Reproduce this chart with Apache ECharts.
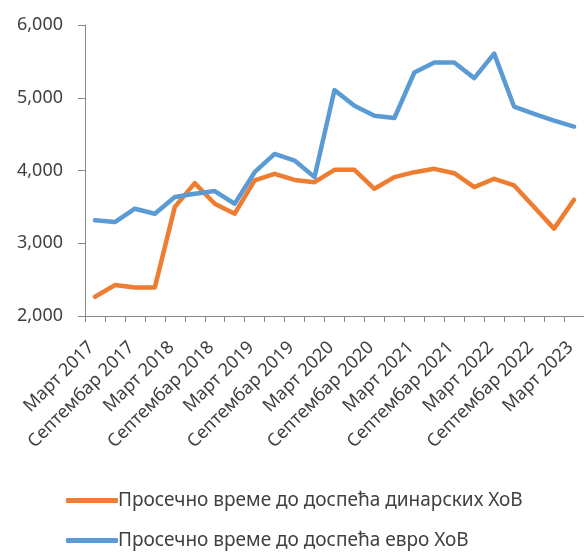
<!DOCTYPE html>
<html><head><meta charset="utf-8">
<script src="https://cdn.jsdelivr.net/npm/echarts@6/dist/echarts.min.js"></script>
<style>html,body{margin:0;padding:0;background:#fff}#c{width:584px;height:552px}</style>
</head><body><div id="c"></div>
<script>
const categories = [
 'Март 2017','Јун 2017','Септембар 2017','Децембар 2017',
 'Март 2018','Јун 2018','Септембар 2018','Децембар 2018',
 'Март 2019','Јун 2019','Септембар 2019','Децембар 2019',
 'Март 2020','Јун 2020','Септембар 2020','Децембар 2020',
 'Март 2021','Јун 2021','Септембар 2021','Децембар 2021',
 'Март 2022','Јун 2022','Септембар 2022','Децембар 2022',
 'Март 2023'];
const dinarValues = [2265,2425,2393,2393,3500,3826,3543,3406,3863,3954,3870,3840,4009,4009,3749,3909,3977,4023,3963,3772,3886,3795,3497,3201,3598];
const euroValues = [3315,3292,3475,3406,3635,3680,3717,3543,3977,4228,4137,3909,5105,4890,4753,4722,5347,5484,5484,5270,5607,4877,4777,4685,4603];
const seriesNames = ['Просечно време до доспећа динарских ХоВ','Просечно време до доспећа евро ХоВ'];
const yTicks = {min:2000,max:6000,interval:1000};

const chart = echarts.init(document.getElementById('c'));
const font = 'Noto Sans';
const legendBase = {orient:'horizontal',left:61,itemWidth:52,itemHeight:5,icon:'roundRect',
  textStyle:{fontFamily:font,fontSize:19,color:'#404040',padding:[0,0,0,-5]}};
chart.setOption({
  animation:false,
  grid:{left:85,right:0,top:25,bottom:236,containLabel:false},
  legend:[
    Object.assign({},legendBase,{top:486,data:[seriesNames[0]]}),
    Object.assign({},legendBase,{top:526,data:[seriesNames[1]]})
  ],
  xAxis:{type:'category',data:categories,boundaryGap:true,
    axisLine:{lineStyle:{color:'#868686',width:1}},
    axisTick:{show:true,interval:0,length:6,lineStyle:{color:'#868686'}},
    axisLabel:{interval:1,rotate:45,fontFamily:font,fontSize:18,color:'#404040',margin:25,padding:[0,5,0,0]}},
  yAxis:{type:'value',min:yTicks.min,max:yTicks.max,interval:yTicks.interval,
    splitLine:{show:false},
    axisLine:{show:true,lineStyle:{color:'#868686'}},
    axisTick:{show:true,length:7,lineStyle:{color:'#868686'}},
    axisLabel:{fontFamily:font,fontSize:18,color:'#404040',margin:22,
      formatter:v=>v.toLocaleString('en-US')}},
  series:[
    {name:seriesNames[0],type:'line',data:dinarValues,symbol:'none',
      lineStyle:{width:4.5,color:'#ED7D31',cap:'round',join:'round'},itemStyle:{color:'#ED7D31'}},
    {name:seriesNames[1],type:'line',data:euroValues,symbol:'none',
      lineStyle:{width:4.5,color:'#5B9BD5',cap:'round',join:'round'},itemStyle:{color:'#5B9BD5'}}
  ]
});
</script></body></html>
